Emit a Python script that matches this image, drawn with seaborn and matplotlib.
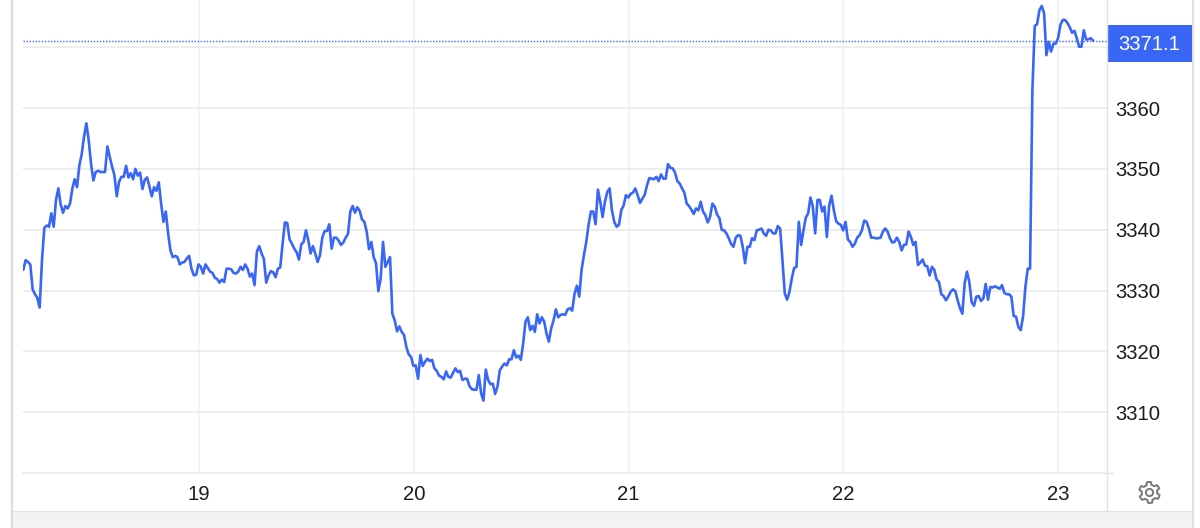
import numpy as np
import pandas as pd
import matplotlib
matplotlib.use("Agg")
import matplotlib.pyplot as plt
import matplotlib.dates as mdates
from matplotlib.patches import Rectangle, Polygon, Circle
import seaborn as sns

# gold price, one value every ~15 min
prices = [
    3333.4, 3335.0, 3334.7, 3334.3, 3330.2, 3329.4, 3328.8, 3327.2, 3335.0, 3340.3, 3340.7, 3340.5,
    3342.7, 3340.5, 3344.9, 3346.8, 3344.2, 3342.8, 3343.9, 3343.5, 3344.3, 3346.8, 3348.3, 3347.0,
    3350.6, 3352.4, 3355.3, 3357.5, 3354.7, 3350.9, 3348.1, 3349.5, 3349.7, 3349.5, 3349.5, 3349.5,
    3353.7, 3352.0, 3350.4, 3349.0, 3345.5, 3347.9, 3348.7, 3348.7, 3350.5, 3348.6, 3349.3, 3348.3,
    3350.0, 3348.9, 3349.4, 3346.7, 3348.2, 3348.6, 3347.1, 3345.5, 3347.0, 3346.4, 3347.8, 3344.3,
    3341.3, 3343.0, 3339.4, 3336.6, 3335.5, 3335.7, 3335.5, 3334.3, 3334.6, 3334.7, 3335.3, 3335.7,
    3333.6, 3332.5, 3332.6, 3334.3, 3333.9, 3332.8, 3334.3, 3333.7, 3333.1, 3332.9, 3332.1, 3331.9,
    3331.3, 3331.8, 3331.4, 3333.6, 3333.6, 3333.5, 3332.9, 3332.8, 3333.1, 3333.9, 3333.4, 3334.3,
    3333.6, 3332.3, 3332.8, 3330.9, 3336.4, 3337.3, 3336.1, 3335.2, 3331.3, 3332.5, 3333.2, 3333.0,
    3332.2, 3333.6, 3333.8, 3337.7, 3341.2, 3341.1, 3338.4, 3337.7, 3336.9, 3336.3, 3335.1, 3337.6,
    3338.0, 3339.9, 3338.3, 3336.1, 3337.3, 3336.1, 3334.7, 3335.8, 3338.7, 3339.8, 3339.8, 3340.9,
    3336.9, 3338.7, 3338.7, 3338.2, 3337.5, 3337.9, 3338.7, 3339.3, 3343.0, 3343.9, 3342.8, 3343.7,
    3343.1, 3341.7, 3341.3, 3339.7, 3336.8, 3338.0, 3335.5, 3334.5, 3329.9, 3332.0, 3338.0, 3333.9,
    3334.7, 3335.5, 3326.2, 3325.1, 3323.3, 3324.1, 3323.2, 3322.7, 3320.7, 3319.5, 3319.1, 3317.6,
    3317.7, 3315.5, 3319.4, 3317.6, 3318.3, 3318.8, 3318.4, 3318.6, 3317.2, 3316.8, 3316.0, 3315.8,
    3315.4, 3316.7, 3315.8, 3315.7, 3316.5, 3317.2, 3316.6, 3316.8, 3315.3, 3315.5, 3315.5, 3314.3,
    3313.8, 3313.7, 3313.7, 3316.1, 3313.1, 3311.9, 3317.0, 3315.3, 3314.6, 3314.7, 3313.0, 3314.2,
    3316.9, 3317.5, 3318.0, 3317.7, 3318.7, 3318.7, 3320.2, 3319.0, 3319.3, 3318.6, 3321.3, 3324.9,
    3325.6, 3323.5, 3324.2, 3323.2, 3326.1, 3324.6, 3325.6, 3324.9, 3322.9, 3321.6, 3323.8, 3325.1,
    3326.9, 3325.6, 3326.0, 3326.1, 3326.0, 3326.9, 3327.1, 3326.7, 3329.5, 3330.8, 3329.0, 3333.4,
    3335.8, 3338.0, 3340.8, 3343.0, 3343.0, 3340.9, 3346.6, 3344.6, 3342.1, 3344.6, 3346.2, 3346.8,
    3343.2, 3341.3, 3340.5, 3340.8, 3343.2, 3344.0, 3345.7, 3345.3, 3345.9, 3346.1, 3346.8, 3345.7,
    3344.4, 3345.1, 3345.7, 3347.3, 3348.5, 3348.4, 3348.3, 3348.7, 3348.0, 3349.1, 3348.4, 3348.4,
    3350.8, 3350.2, 3350.1, 3349.4, 3348.0, 3347.6, 3346.8, 3346.1, 3344.3, 3343.9, 3343.3, 3342.6,
    3343.5, 3343.2, 3344.6, 3343.0, 3342.4, 3341.2, 3342.1, 3344.3, 3343.8, 3342.5, 3341.9, 3340.0,
    3339.9, 3339.4, 3338.6, 3337.7, 3337.2, 3338.7, 3339.1, 3339.0, 3337.2, 3334.5, 3337.2, 3337.2,
    3338.6, 3338.3, 3339.9, 3340.0, 3340.2, 3339.4, 3339.0, 3340.0, 3339.9, 3339.4, 3339.4, 3340.6,
    3340.2, 3335.0, 3329.5, 3328.5, 3329.8, 3332.0, 3333.7, 3333.9, 3341.3, 3337.5, 3339.9, 3342.0,
    3342.7, 3345.3, 3343.8, 3339.4, 3344.9, 3344.9, 3343.0, 3343.8, 3338.8, 3344.0, 3345.6, 3343.2,
    3341.4, 3341.0, 3340.8, 3339.9, 3341.3, 3338.4, 3338.0, 3337.2, 3337.7, 3338.7, 3339.1, 3339.9,
    3341.5, 3341.3, 3340.2, 3338.7, 3338.7, 3338.6, 3338.6, 3338.7, 3339.7, 3340.2, 3339.7, 3338.6,
    3337.9, 3338.0, 3338.7, 3338.0, 3336.6, 3337.5, 3337.6, 3339.7, 3338.8, 3337.5, 3338.0, 3334.2,
    3334.6, 3335.1, 3334.1, 3334.0, 3332.5, 3333.9, 3333.4, 3331.8, 3331.4, 3329.4, 3329.1, 3328.4,
    3329.0, 3329.8, 3330.2, 3329.9, 3328.4, 3327.1, 3326.2, 3331.2, 3333.1, 3331.4, 3328.1, 3327.5,
    3329.0, 3329.1, 3328.3, 3328.7, 3331.1, 3328.5, 3330.6, 3330.5, 3330.7, 3330.5, 3330.3, 3330.9,
    3329.6, 3329.4, 3329.4, 3329.0, 3325.8, 3325.7, 3324.0, 3323.5, 3325.7, 3330.6, 3333.6, 3333.6,
    3363.0, 3373.5, 3373.8, 3376.1, 3376.8, 3375.6, 3368.7, 3370.9, 3369.3, 3370.6, 3370.6, 3371.5,
    3373.7, 3374.5, 3374.5, 3374.0, 3373.3, 3372.4, 3372.7, 3371.5, 3370.1, 3370.1, 3372.8, 3371.3,
    3371.3, 3371.5, 3371.1,
]
start_time = "2025-06-18 04:22"
end_time = "2025-06-23 03:55"
last_price = 3371.1
y_ticks = [3310, 3320, 3330, 3340, 3350, 3360, 3370]
y_labels = ["3310", "3320", "3330", "3340", "3350", "3360", ""]

BLUE = "#3a66f5"
HGRID = "#e8e8e8"
VGRID = "#eef2f6"
EDGE = "#e2e2e2"
TXT = "#1c1c1c"

df = pd.DataFrame({"time": pd.date_range(start_time, end_time, periods=len(prices)), "price": prices})

sns.set_theme(style="white")
plt.rcParams["font.family"] = ["Liberation Sans", "DejaVu Sans"]

fig = plt.figure(figsize=(12, 5.28), dpi=100)

# page furniture in pixel coordinates
bg = fig.add_axes([0, 0, 1, 1], zorder=0)
bg.set_xlim(0, 1200)
bg.set_ylim(528, 0)
bg.axis("off")
bg.add_patch(Rectangle((12, 511), 1180, 17, color="#f3f3f3", lw=0))
bg.plot([12, 1192], [510.5, 510.5], color=EDGE, lw=1)
bg.plot([11.5, 11.5], [0, 528], color="#dcdcdc", lw=1.6)
bg.plot([1192.5, 1192.5], [0, 528], color="#dcdcdc", lw=1.2)
bg.plot([1106.5, 1106.5], [0, 510], color=EDGE, lw=1)
bg.plot([1106, 1113], [473, 473], color=EDGE, lw=1)

# gear icon
ang = np.linspace(0, 2 * np.pi, 48, endpoint=False) + np.pi / 12
rad = np.where((np.arange(48) % 8) < 4, 10.5, 7.8)
bg.add_patch(Polygon(np.c_[1149.5 + rad * np.cos(ang), 492.5 + rad * np.sin(ang)], closed=True,
                     fill=False, ec="#787878", lw=1.4, joinstyle="round"))
bg.add_patch(Circle((1149.5, 492.5), 3.6, fill=False, ec="#787878", lw=1.4))

# last price tag
bg.add_patch(Rectangle((1107, 25), 85, 37, color=BLUE, lw=0))
bg.text(1149, 44, f"{last_price}", color="white", fontsize=14.6, ha="center", va="center")

ax = fig.add_axes([23 / 1200, 55 / 528, 1084 / 1200, 473 / 528], zorder=1)
ax.patch.set_visible(False)

sns.lineplot(data=df, x="time", y="price", ax=ax, color=BLUE, linewidth=1.9,
             estimator=None, errorbar=None, zorder=3)
ax.axhline(last_price, color=BLUE, lw=1, ls=(0, (1, 1.2)), zorder=2)

ax.set_xlim(pd.Timestamp("2025-06-18 04:20"), pd.Timestamp("2025-06-23 05:28"))
ax.set_ylim(3300, 3377.78)
ax.xaxis.set_major_locator(mdates.DayLocator())
ax.xaxis.set_major_formatter(mdates.DateFormatter("%d"))
ax.set_yticks(y_ticks)
ax.set_yticklabels(y_labels)
ax.yaxis.tick_right()
ax.set_xlabel("")
ax.set_ylabel("")
ax.tick_params(axis="y", length=0, pad=6, labelsize=14.6, labelcolor=TXT)
ax.tick_params(axis="x", length=0, pad=9, labelsize=14.6, labelcolor=TXT)

ax.grid(axis="y", color=HGRID, lw=1.1)
ax.grid(axis="x", color=VGRID, lw=1.1)
ax.set_axisbelow(True)
for side in ["top", "left", "right"]:
    ax.spines[side].set_visible(False)
ax.spines["bottom"].set_color(HGRID)
ax.spines["bottom"].set_linewidth(1.1)

fig.savefig("out.png", dpi=100)
